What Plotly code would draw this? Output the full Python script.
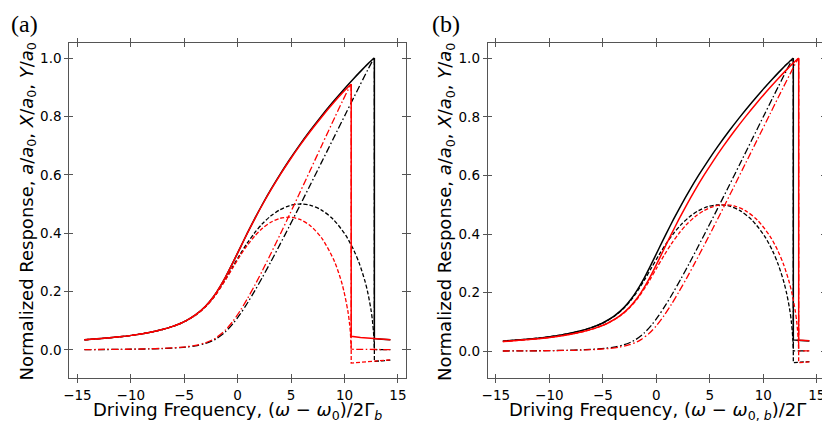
import plotly.graph_objects as go

# ---------------- data ----------------
# upper branch of the black (reference) response, used in both panels
x_black = [-14.344, -12.470, -11.074, -9.955, -8.272, -7.062, -6.148, -5.429, -4.847, -3.952,
           -3.008, -2.317, -1.937, -1.136, -0.438, 0.230, 0.902, 1.600, 2.334, 3.113,
           3.941, 4.823, 5.762, 6.759, 7.817, 8.938, 10.126, 10.873, 11.388, 11.919,
           12.191, 12.474, 12.622, 12.752, 12.8]
amp_black = [0.0348, 0.0400, 0.0450, 0.0500, 0.0600, 0.0700, 0.0800, 0.0900, 0.1000, 0.1200,
             0.1500, 0.1800, 0.2000, 0.2500, 0.3000, 0.3500, 0.4000, 0.4500, 0.5000, 0.5500,
             0.6000, 0.6500, 0.7000, 0.7500, 0.8000, 0.8500, 0.9000, 0.9300, 0.9500, 0.9700,
             0.9800, 0.9900, 0.9950, 0.9990, 1.0000]
X_black = [0.0012, 0.0016, 0.0020, 0.0025, 0.0036, 0.0049, 0.0064, 0.0081, 0.0100, 0.0144,
           0.0225, 0.0324, 0.0400, 0.0625, 0.0900, 0.1225, 0.1600, 0.2025, 0.2500, 0.3025,
           0.3600, 0.4225, 0.4900, 0.5625, 0.6400, 0.7225, 0.8100, 0.8649, 0.9025, 0.9409,
           0.9604, 0.9801, 0.9900, 0.9980, 1.0000]
Y_black = [0.0348, 0.0400, 0.0450, 0.0499, 0.0599, 0.0698, 0.0797, 0.0896, 0.0995, 0.1191,
           0.1483, 0.1771, 0.1960, 0.2420, 0.2862, 0.3278, 0.3666, 0.4018, 0.4330, 0.4594,
           0.4800, 0.4940, 0.4999, 0.4961, 0.4800, 0.4478, 0.3923, 0.3418, 0.2966, 0.2358,
           0.1950, 0.1397, 0.0994, 0.0447, 0.0000]
# black jump-down point and lower-branch tail
tail_x_black = [12.8, 13.5, 14.3]
tail_amp_black = [0.039, 0.037, 0.035]
tail_X_black = [0.0015, 0.0014, 0.0012]
tail_Y_black = [-0.039, -0.037, -0.035]

# panel (a), red curves
x_red_a = [-14.344, -12.470, -11.074, -9.955, -8.272, -7.062, -6.148, -5.429, -4.847, -3.952,
           -3.008, -2.317, -1.937, -1.136, -0.432, 0.238, 0.915, 1.616, 2.355, 3.140,
           3.976, 4.867, 5.817, 6.828, 7.906, 9.058, 9.794, 10.319, 10.460, 10.553, 10.63]
amp_red_a = [0.0348, 0.0400, 0.0450, 0.0500, 0.0600, 0.0700, 0.0800, 0.0900, 0.1000, 0.1200,
             0.1500, 0.1800, 0.2000, 0.2500, 0.3000, 0.3500, 0.4000, 0.4500, 0.5000, 0.5500,
             0.6000, 0.6500, 0.7000, 0.7500, 0.8000, 0.8500, 0.8800, 0.9000, 0.9050, 0.9080, 0.9100]
X_red_a = [0.0013, 0.0018, 0.0022, 0.0027, 0.0040, 0.0054, 0.0070, 0.0089, 0.0110, 0.0158,
           0.0247, 0.0356, 0.0440, 0.0687, 0.0989, 0.1346, 0.1758, 0.2225, 0.2747, 0.3324,
           0.3956, 0.4643, 0.5385, 0.6181, 0.7033, 0.7940, 0.8510, 0.8901, 0.9000, 0.9060, 0.9100]
Y_red_a = [0.0348, 0.0400, 0.0450, 0.0499, 0.0599, 0.0698, 0.0797, 0.0896, 0.0994, 0.1190,
           0.1479, 0.1764, 0.1951, 0.2404, 0.2832, 0.3231, 0.3593, 0.3911, 0.4178, 0.4382,
           0.4511, 0.4549, 0.4473, 0.4247, 0.3813, 0.3035, 0.2241, 0.1331, 0.0947, 0.0602, 0.0000]
tail_x_red_a = [10.63, 11.5, 12.5, 13.5, 14.3]
tail_amp_red_a = [0.047, 0.043, 0.040, 0.037, 0.035]
tail_X_red_a = [0.0025, 0.0021, 0.0018, 0.0015, 0.0013]
tail_Y_red_a = [-0.045, -0.042, -0.039, -0.036, -0.034]

# panel (b), red curves
x_red_b = [-14.344, -13.844, -11.970, -10.574, -9.455, -7.772, -6.562, -5.648, -4.929, -4.347,
           -3.452, -2.508, -1.817, -1.437, -0.636, 0.062, 0.730, 1.402, 2.100, 2.834,
           3.613, 4.441, 5.323, 6.262, 7.259, 8.317, 9.438, 10.626, 11.373, 11.888,
           12.419, 12.691, 12.974, 13.122, 13.252, 13.3]
amp_red_b = [0.0336, 0.0348, 0.0400, 0.0450, 0.0500, 0.0600, 0.0700, 0.0800, 0.0900, 0.1000,
             0.1200, 0.1500, 0.1800, 0.2000, 0.2500, 0.3000, 0.3500, 0.4000, 0.4500, 0.5000,
             0.5500, 0.6000, 0.6500, 0.7000, 0.7500, 0.8000, 0.8500, 0.9000, 0.9300, 0.9500,
             0.9700, 0.9800, 0.9900, 0.9950, 0.9990, 1.0000]
X_red_b = [0.0011, 0.0012, 0.0016, 0.0020, 0.0025, 0.0036, 0.0049, 0.0064, 0.0081, 0.0100,
           0.0144, 0.0225, 0.0324, 0.0400, 0.0625, 0.0900, 0.1225, 0.1600, 0.2025, 0.2500,
           0.3025, 0.3600, 0.4225, 0.4900, 0.5625, 0.6400, 0.7225, 0.8100, 0.8649, 0.9025,
           0.9409, 0.9604, 0.9801, 0.9900, 0.9980, 1.0000]
Y_red_b = [0.0336, 0.0348, 0.0400, 0.0450, 0.0499, 0.0599, 0.0698, 0.0797, 0.0896, 0.0995,
           0.1191, 0.1483, 0.1771, 0.1960, 0.2420, 0.2862, 0.3278, 0.3666, 0.4018, 0.4330,
           0.4594, 0.4800, 0.4940, 0.4999, 0.4961, 0.4800, 0.4478, 0.3923, 0.3418, 0.2966,
           0.2358, 0.1950, 0.1397, 0.0994, 0.0447, 0.0000]
tail_x_red_b = [13.3, 14.3]
tail_amp_red_b = [0.0385, 0.036]
tail_X_red_b = [0.0015, 0.0013]
tail_Y_red_b = [-0.0385, -0.036]

x_ticks = [-15, -10, -5, 0, 5, 10, 15]
y_ticks = [0.0, 0.2, 0.4, 0.6, 0.8, 1.0]

# ---------------- styling ----------------
BLACK = "#000000"
RED = "#ff0000"
DASH = "4px,2px"
DASHDOT = "7px,2.5px,1.5px,2.5px"
FONT = "DejaVu Sans"

fig = go.Figure()


def add_branch(xa, ya, x, y, color, dash, width, spline=True):
    fig.add_trace(go.Scatter(
        x=x, y=y, mode="lines", xaxis=xa, yaxis=ya, showlegend=False, hoverinfo="skip",
        line=dict(color=color, dash=dash, width=width,
                  shape="spline" if spline else "linear", smoothing=0.8 if spline else None)))


def add_response(xa, ya, x, amp, X, Y, tx, tamp, tX, tY, color, peak_X, peak_Y):
    # upper branches
    add_branch(xa, ya, x, amp, color, "solid", 1.5)
    add_branch(xa, ya, x, X, color, DASHDOT, 1.3)
    add_branch(xa, ya, x, Y, color, DASH, 1.3)
    # jump down + lower branch tail
    xj = x[-1]
    add_branch(xa, ya, [xj] + tx, [amp[-1]] + tamp, color, "solid", 1.5, spline=False)
    add_branch(xa, ya, [xj] + tx, [peak_X] + tX, color, DASHDOT, 1.3, spline=False)
    add_branch(xa, ya, [xj] + tx, [peak_Y] + tY, color, DASH, 1.3, spline=False)


# panel (a)
add_response("x", "y", x_black, amp_black, X_black, Y_black,
             tail_x_black, tail_amp_black, tail_X_black, tail_Y_black, BLACK, X_black[-1], Y_black[-1])
add_response("x", "y", x_red_a, amp_red_a, X_red_a, Y_red_a,
             tail_x_red_a, tail_amp_red_a, tail_X_red_a, tail_Y_red_a, RED, X_red_a[-1], Y_red_a[-1])
# panel (b)
add_response("x2", "y2", x_black, amp_black, X_black, Y_black,
             tail_x_black, tail_amp_black, tail_X_black, tail_Y_black, BLACK, X_black[-1], Y_black[-1])
add_response("x2", "y2", x_red_b, amp_red_b, X_red_b, Y_red_b,
             tail_x_red_b, tail_amp_red_b, tail_X_red_b, tail_Y_red_b, RED, X_red_b[-1], Y_red_b[-1])

# dummy traces so the overlay (inside-tick) axes are drawn
for xa, ya in (("x3", "y3"), ("x4", "y4")):
    fig.add_trace(go.Scatter(x=[None], y=[None], xaxis=xa, yaxis=ya, showlegend=False,
                             hoverinfo="skip", mode="lines"))

# the page body has an 8px margin, so the figure is 822x413 placed at (8, 8)
W, H, OFF = 822, 413, 8


def px_x(p):
    return (p - OFF) / W


def px_y(p):
    return (H - (p - OFF)) / H


XR = [-15.76, 15.76]
YR_A = [-0.097, 1.0525]
YR_B = [-0.092, 1.053]
XDOM_A = [px_x(69.3), px_x(406.0)]
XDOM_B = [px_x(487.7), px_x(825.0)]
YDOM = [px_y(378.3), px_y(42.7)]
FRAME = "#555555"

tickfont = dict(family=FONT, size=13.5, color="#000000")
titlefont = dict(family=FONT, size=18, color="#000000")

common_x = dict(range=XR, tickvals=x_ticks, ticks="outside", ticklen=4, tickwidth=1,
                tickcolor=FRAME, showline=True, linecolor=FRAME, linewidth=1, mirror="ticks",
                showgrid=False, zeroline=False, tickfont=tickfont, automargin=False)
common_y = dict(tickvals=y_ticks, tickformat=".1f", ticks="outside", ticklen=4, tickwidth=1,
                tickcolor=FRAME, showline=True, linecolor=FRAME, linewidth=1, mirror="ticks",
                showgrid=False, zeroline=False, tickfont=tickfont, automargin=False)
inner = dict(ticks="inside", ticklen=4, tickwidth=1, tickcolor=FRAME, showline=False,
             mirror="ticks", showgrid=False, zeroline=False, showticklabels=False,
             automargin=False)

ylabel = ("Normalized Response, <i>a</i>/<i>a</i><sub>0</sub>, "
          "<i>X</i>/<i>a</i><sub>0</sub>, <i>Y</i>/<i>a</i><sub>0</sub>")
xlabel_a = "Driving Frequency, (<i>ω</i> − <i>ω</i><sub>0</sub>)/2Γ<sub><i>b</i></sub>"
xlabel_b = "Driving Frequency, (<i>ω</i> − <i>ω</i><sub>0, <i>b</i></sub>)/2Γ"


def label(text, x, y, angle=0, font=titlefont):
    return dict(text=text, x=px_x(x), y=px_y(y), xref="paper", yref="paper",
                xanchor="center", yanchor="middle", showarrow=False, textangle=angle,
                font=font)


panel_font = dict(family="Liberation Serif", size=24, color="#000000")

fig.update_layout(
    template="none",
    width=W, height=H, margin=dict(l=0, r=0, t=0, b=0, pad=0),
    paper_bgcolor="white", plot_bgcolor="white",
    xaxis=dict(domain=XDOM_A, anchor="y", **common_x),
    yaxis=dict(domain=YDOM, anchor="x", range=YR_A, **common_y),
    xaxis2=dict(domain=XDOM_B, anchor="y2", **common_x),
    yaxis2=dict(domain=YDOM, anchor="x2", range=YR_B, **common_y),
    xaxis3=dict(overlaying="x", anchor="y3", range=XR, tickvals=x_ticks, domain=XDOM_A, **inner),
    yaxis3=dict(overlaying="y", anchor="x3", range=YR_A, tickvals=y_ticks, domain=YDOM, **inner),
    xaxis4=dict(overlaying="x2", anchor="y4", range=XR, tickvals=x_ticks, domain=XDOM_B, **inner),
    yaxis4=dict(overlaying="y2", anchor="x4", range=YR_B, tickvals=y_ticks, domain=YDOM, **inner),
    annotations=[
        label(xlabel_a, 237.6, 411),
        label(xlabel_b, 657.0, 411),
        label(ylabel, 27.5, 212, angle=-90),
        label(ylabel, 446.0, 212, angle=-90),
        dict(text="(a)", x=px_x(9), y=px_y(24), xref="paper", yref="paper",
             xanchor="left", yanchor="middle", showarrow=False, font=panel_font),
        dict(text="(b)", x=px_x(430), y=px_y(24), xref="paper", yref="paper",
             xanchor="left", yanchor="middle", showarrow=False, font=panel_font),
    ],
)

fig.write_html("out.html")
